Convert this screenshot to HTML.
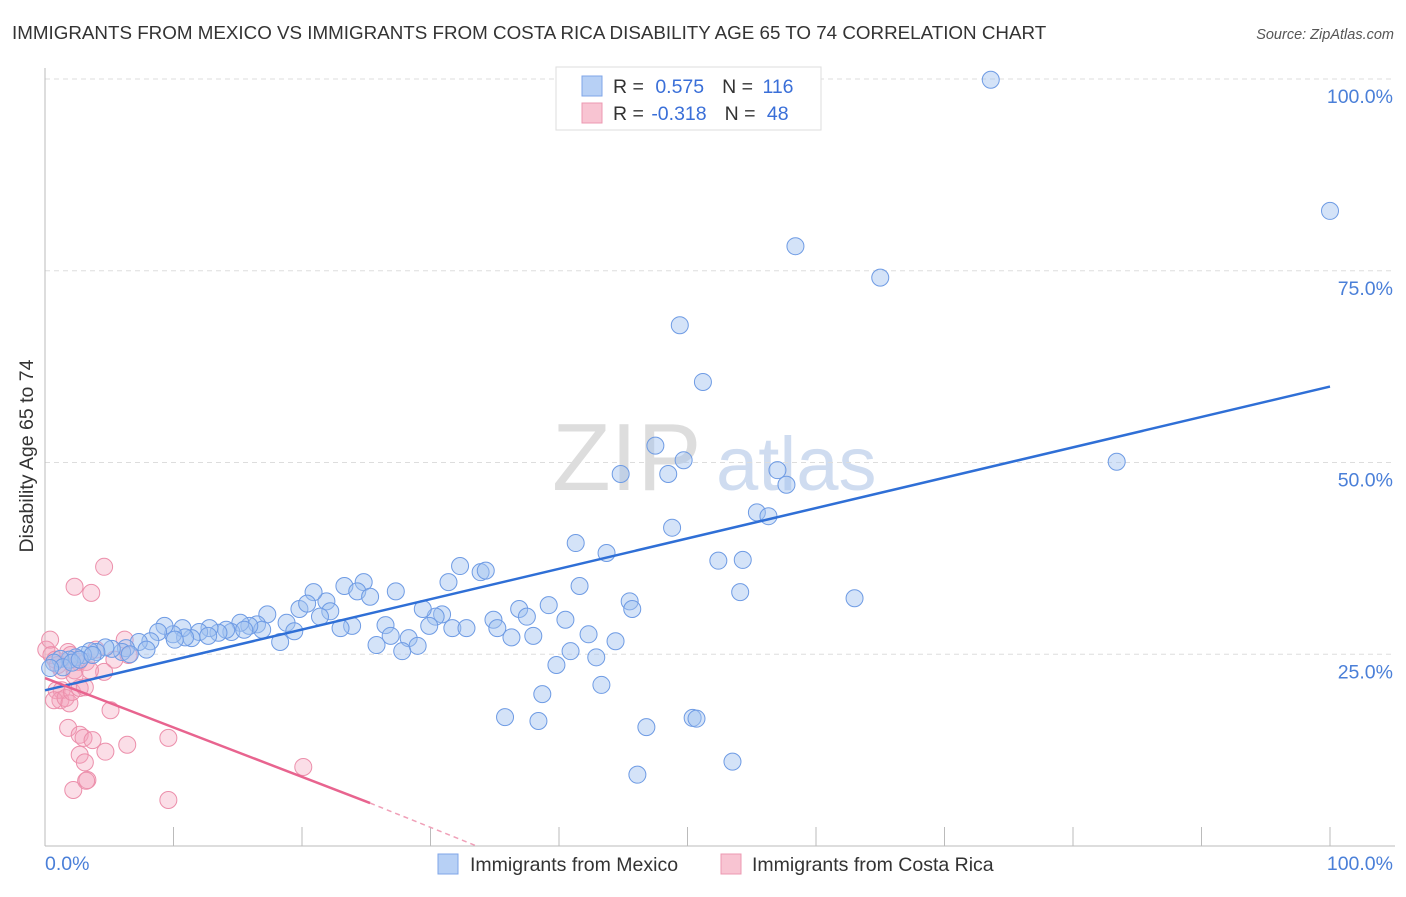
<!DOCTYPE html>
<html><head><meta charset="utf-8"><style>
body{margin:0;background:#fff;font-family:"Liberation Sans",sans-serif;}
svg text{font-family:"Liberation Sans",sans-serif;}
</style></head><body>
<svg id="chart" width="1406" height="892" xmlns="http://www.w3.org/2000/svg">
<text x="12" y="39" font-size="18.8" fill="#333">IMMIGRANTS FROM MEXICO VS IMMIGRANTS FROM COSTA RICA DISABILITY AGE 65 TO 74 CORRELATION CHART</text>
<text x="1394" y="39" font-size="14.5" fill="#555" font-style="italic" text-anchor="end">Source: ZipAtlas.com</text>
<text x="33" y="456" font-size="19.5" fill="#333" text-anchor="middle" transform="rotate(-90 33 456)">Disability Age 65 to 74</text>
<g><text x="552" y="490" font-size="96" font-family="Liberation Serif" fill="#ddd">ZIP</text><text x="716" y="490" font-size="76" fill="#cfdcf0">atlas</text></g>
<g id="grid"></g><g id="axes"></g><g id="pink"></g><g id="blue"></g><g id="lines"></g>
<g>
<rect x="556" y="67" width="265" height="63" fill="#fff" stroke="#ddd"/>
<rect x="582" y="76" width="20" height="20" fill="#b7d0f5" stroke="#7fa6e8"/>
<rect x="582" y="103" width="20" height="20" fill="#f8c4d2" stroke="#ec98b1"/>
<text x="613" y="93" font-size="19.5" fill="#333">R = <tspan fill="#3a6fd8" dx="6">0.575</tspan><tspan dx="18" fill="#333">N = </tspan><tspan fill="#3a6fd8" dx="4">116</tspan></text>
<text x="613" y="120" font-size="19.5" fill="#333">R = <tspan fill="#3a6fd8" dx="2">-0.318</tspan><tspan dx="18" fill="#333">N = </tspan><tspan fill="#3a6fd8" dx="6">48</tspan></text>
</g>
<g>
<rect x="438" y="854" width="20" height="20" fill="#b7d0f5" stroke="#7fa6e8"/>
<text x="470" y="871" font-size="19.5" fill="#333">Immigrants from Mexico</text>
<rect x="721" y="854" width="20" height="20" fill="#f8c4d2" stroke="#ec98b1"/>
<text x="752" y="871" font-size="19.5" fill="#333">Immigrants from Costa Rica</text>
</g>
</svg>
<script>
const yTicks=[25,50,75,100];
const yTickLabels=["25.0%","50.0%","75.0%","100.0%"];
const xTicks=[0,10,20,30,40,50,60,70,80,90,100];
const blueX=[73.6,100,58.4,65.0,49.4,51.2,47.5,49.7,44.8,48.5,57.0,57.7,83.4,55.4,56.3,48.8,41.3,43.7,52.4,54.3,54.1,63.0,41.6,45.5,45.7,39.2,40.5,42.3,44.4,40.9,42.9,39.8,43.3,38.7,35.8,38.4,46.8,50.4,50.7,53.5,46.1,32.3,33.9,34.3,31.4,36.9,37.5,34.9,35.2,36.3,38.0,31.7,32.8,30.9,30.4,29.4,29.9,27.3,26.5,26.9,28.3,29.0,27.8,25.8,24.8,23.3,24.3,25.3,21.9,20.9,19.8,20.4,22.2,21.4,23.9,23.0,18.8,19.4,17.3,16.5,16.9,18.3,15.9,15.2,14.5,15.5,14.1,13.5,12.8,12.0,12.7,11.4,10.7,10.9,9.96,10.1,9.3,8.8,8.2,7.3,7.9,6.3,6.0,5.2,4.7,4.0,3.5,2.96,2.4,1.9,1.2,0.7,1.4,0.4,2.1,2.7,3.7,6.6];
const blueY=[99.9,82.8,78.2,74.1,67.9,60.5,52.2,50.3,48.5,48.5,49.0,47.1,50.1,43.5,43.0,41.5,39.5,38.2,37.2,37.3,33.1,32.3,33.9,31.9,30.9,31.4,29.5,27.6,26.7,25.4,24.6,23.6,21.0,19.8,16.8,16.3,15.5,16.7,16.6,11.0,9.3,36.5,35.7,35.9,34.4,30.9,29.9,29.5,28.4,27.2,27.4,28.4,28.4,30.2,29.9,30.9,28.7,33.2,28.8,27.4,27.1,26.1,25.4,26.2,34.4,33.9,33.2,32.5,31.9,33.1,30.9,31.6,30.6,29.9,28.7,28.4,29.1,28.0,30.2,28.9,28.2,26.6,28.7,29.1,27.9,28.2,28.2,27.8,28.4,27.9,27.4,27.1,28.4,27.2,27.6,26.9,28.7,27.9,26.7,26.6,25.6,25.8,25.3,25.7,25.9,25.3,25.4,24.9,24.6,24.3,24.4,23.9,23.3,23.2,23.9,24.3,24.9,25.0];
const pinkX=[4.6,2.3,3.6,0.1,0.5,0.8,1.0,1.3,1.8,2.0,2.3,2.6,3.2,3.97,5.4,6.2,6.5,4.6,0.9,1.3,1.2,0.7,1.6,1.9,2.1,2.7,3.1,2.3,5.1,1.8,2.7,3.0,3.7,6.4,9.6,4.7,2.7,3.1,3.3,3.2,2.2,9.6,20.1,0.4,3.5];
const pinkY=[36.4,33.8,33.0,25.6,24.9,24.3,23.6,22.9,25.3,24.9,22.9,24.0,24.0,25.6,24.3,26.9,24.9,22.7,20.3,20.3,19.0,19.0,19.3,18.6,20.1,20.6,20.7,22.2,17.7,15.4,14.5,14.1,13.8,13.2,14.1,12.3,11.9,10.9,8.6,8.5,7.3,6.0,10.3,26.9,22.9];
const blueLine=[[0,20.3],[100,59.9]];
const pinkLineSolid=[[0,21.9],[25.3,5.6]];
const pinkLineDash=[[25.3,5.6],[33.6,0]];
const X=v=>45+v*12.85, Y=v=>846-v*7.67;
const NS="http://www.w3.org/2000/svg";
function mk(t,a,p){const e=document.createElementNS(NS,t);for(const k in a)e.setAttribute(k,a[k]);document.getElementById(p).appendChild(e);return e;}
yTicks.forEach((t,i)=>{
 const l=mk('line',{x1:45,x2:1395,y1:Y(t),y2:Y(t),stroke:'#ddd','stroke-dasharray':'5,4'},'grid');
 
 
 const tx=mk('text',{x:1393,y:Y(t)+24,'font-size':19.5,fill:'#4a7fd8','text-anchor':'end'},'grid');
 tx.textContent=yTickLabels[i];
 
 
});
const ax=mk('line',{x1:45,x2:45,y1:68,y2:846,stroke:'#bbb'},'axes');


const bx=mk('line',{x1:45,x2:1395,y1:846,y2:846,stroke:'#bbb'},'axes');


xTicks.forEach(t=>{const l=mk('line',{x1:X(t),x2:X(t),y1:827,y2:846,stroke:'#bbb'},'axes');
 
 });
[[0,"0.0%","start",45],[100,"100.0%","end",1393]].forEach(a=>{const t=mk('text',{x:a[3],y:870,'font-size':19.5,fill:'#4a7fd8','text-anchor':a[2]},'axes');t.textContent=a[1];
 
 });
pinkX.forEach((x,i)=>{const c=mk('circle',{cx:X(x),cy:Y(pinkY[i]),r:8.5,fill:'rgba(244,160,185,0.35)',stroke:'#ec8fab','stroke-width':1},'pink');
 
 });
blueX.forEach((x,i)=>{const c=mk('circle',{cx:X(x),cy:Y(blueY[i]),r:8.5,fill:'rgba(160,192,240,0.45)',stroke:'#6e9be4','stroke-width':1},'blue');
 
 });
const bl=mk('line',{x1:X(blueLine[0][0]),y1:Y(blueLine[0][1]),x2:X(blueLine[1][0]),y2:Y(blueLine[1][1]),stroke:'#2f6fd6','stroke-width':2.5},'lines');


const pl=mk('line',{x1:X(pinkLineSolid[0][0]),y1:Y(pinkLineSolid[0][1]),x2:X(pinkLineSolid[1][0]),y2:Y(pinkLineSolid[1][1]),stroke:'#e8648f','stroke-width':2.5},'lines');


const pd=mk('line',{x1:X(pinkLineDash[0][0]),y1:Y(pinkLineDash[0][1]),x2:X(pinkLineDash[1][0]),y2:Y(pinkLineDash[1][1]),stroke:'#f0a0b8','stroke-width':1.5,'stroke-dasharray':'5,4'},'lines');


</script>
</body></html>
